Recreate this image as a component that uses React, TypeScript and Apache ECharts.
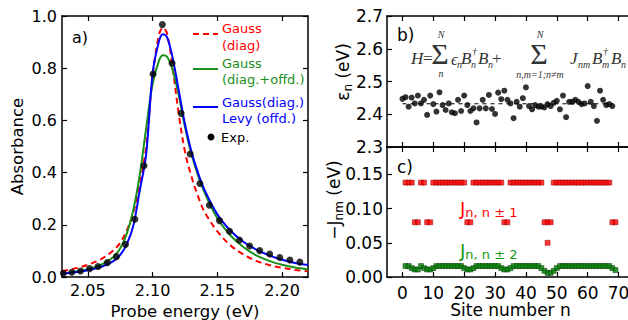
import React, { useEffect, useRef } from "react";
import * as echarts from "echarts";

// ---------- Panel a: absorbance spectra ----------
const curveEnergy = [2.03, 2.04, 2.05, 2.06, 2.07, 2.075, 2.08, 2.085, 2.09, 2.095, 2.1, 2.105, 2.108, 2.111, 2.115, 2.12, 2.125, 2.13, 2.135, 2.14, 2.15, 2.16, 2.17, 2.18, 2.19, 2.2, 2.21, 2.22];
const gaussDiag = [0.022, 0.033, 0.047, 0.068, 0.103, 0.132, 0.178, 0.245, 0.355, 0.5, 0.77, 0.93, 0.955, 0.935, 0.82, 0.63, 0.48, 0.385, 0.31, 0.25, 0.175, 0.122, 0.087, 0.062, 0.046, 0.035, 0.027, 0.022];
const gaussDiagOffd = [0.012, 0.02, 0.03, 0.046, 0.078, 0.11, 0.165, 0.255, 0.39, 0.57, 0.74, 0.83, 0.85, 0.845, 0.8, 0.7, 0.575, 0.47, 0.39, 0.325, 0.225, 0.16, 0.115, 0.083, 0.062, 0.047, 0.036, 0.029];
const gaussLevy = [0.012, 0.018, 0.026, 0.038, 0.062, 0.085, 0.125, 0.195, 0.33, 0.47, 0.78, 0.905, 0.93, 0.92, 0.85, 0.72, 0.585, 0.48, 0.4, 0.335, 0.24, 0.178, 0.135, 0.105, 0.083, 0.066, 0.054, 0.046];
const expEnergy = [2.031, 2.0376, 2.0443, 2.0513, 2.0578, 2.065, 2.072, 2.079, 2.0863, 2.0933, 2.1003, 2.1075, 2.115, 2.122, 2.129, 2.1365, 2.1438, 2.1516, 2.1594, 2.1671, 2.1749, 2.1827, 2.1904, 2.1982, 2.206, 2.2137];
const expAbsorbance = [0.014, 0.018, 0.023, 0.032, 0.04, 0.055, 0.078, 0.125, 0.221, 0.426, 0.778, 0.967, 0.819, 0.627, 0.471, 0.358, 0.275, 0.216, 0.175, 0.142, 0.119, 0.101, 0.088, 0.075, 0.065, 0.057];
const energyTicks = [2.05, 2.1, 2.15, 2.2];

// ---------- Panel b: site energies (sites 0..68) ----------
const siteEnergy = [2.447, 2.452, 2.423, 2.451, 2.433, 2.457, 2.433, 2.444, 2.398, 2.457, 2.431, 2.408, 2.467, 2.428, 2.413, 2.433, 2.406, 2.403, 2.444, 2.41, 2.457, 2.428, 2.41, 2.418, 2.375, 2.418, 2.444, 2.418, 2.459, 2.416, 2.401, 2.466, 2.446, 2.472, 2.444, 2.433, 2.388, 2.438, 2.423, 2.449, 2.482, 2.425, 2.415, 2.428, 2.423, 2.423, 2.421, 2.431, 2.425, 2.435, 2.441, 2.415, 2.457, 2.391, 2.438, 2.438, 2.444, 2.438, 2.431, 2.433, 2.486, 2.438, 2.425, 2.38, 2.472, 2.444, 2.428, 2.431, 2.425];
const meanSiteEnergy = 2.432;
const siteEnergyTicks = [2.3, 2.4, 2.5, 2.6, 2.7];

// ---------- Panel c: couplings (sites 1..69) ----------
const jNearest = [0.138, 0.138, 0.138, 0.08, 0.08, 0.138, 0.138, 0.08, 0.08, 0.138, 0.138, 0.138, 0.138, 0.138, 0.138, 0.138, 0.138, 0.138, 0.138, 0.138, 0.08, 0.08, 0.138, 0.138, 0.138, 0.138, 0.138, 0.138, 0.138, 0.138, 0.138, 0.138, 0.08, 0.08, 0.138, 0.138, 0.138, 0.138, 0.138, 0.138, 0.138, 0.138, 0.138, 0.138, 0.138, 0.08, 0.08, 0.08, 0.138, 0.138, 0.138, 0.138, 0.138, 0.138, 0.138, 0.138, 0.138, 0.138, 0.138, 0.138, 0.138, 0.138, 0.138, 0.138, 0.138, 0.138, 0.138, 0.08, 0.08];
const jNearestExtraSite = [47];
const jNearestExtraValue = [0.05];
const jNextNearest = [0.016, 0.016, 0.013, 0.011, 0.011, 0.016, 0.013, 0.011, 0.011, 0.013, 0.016, 0.016, 0.016, 0.016, 0.016, 0.016, 0.016, 0.016, 0.016, 0.013, 0.011, 0.011, 0.013, 0.016, 0.016, 0.016, 0.016, 0.016, 0.016, 0.016, 0.016, 0.013, 0.011, 0.011, 0.013, 0.016, 0.016, 0.016, 0.016, 0.016, 0.016, 0.016, 0.016, 0.016, 0.013, 0.009, 0.006, 0.006, 0.009, 0.013, 0.016, 0.016, 0.016, 0.016, 0.016, 0.016, 0.016, 0.016, 0.016, 0.016, 0.016, 0.016, 0.016, 0.016, 0.016, 0.016, 0.016, 0.013, 0.01];
const siteTicks = [0, 10, 20, 30, 40, 50, 60, 70];
const couplingTicks = [0, 0.05, 0.1, 0.15];

const FONT = "DejaVu Sans";
const SERIF = "Liberation Serif";
const RED = "#ff0000";
const GREEN = "#1a8f1a";
const BLUE = "#0000ff";

function axis(opts: any) {
  const { gridIndex, position, min, max, ticks, interval, labels, fmt, fontSize, margin, name, nameGap, nameStyle } = opts;
  const a: any = {
    type: "value",
    gridIndex,
    position,
    min,
    max,
    axisLine: { show: true, onZero: false, lineStyle: { color: "#000", width: 1.5 } },
    axisTick: { show: true, inside: true, length: 5, lineStyle: { color: "#000", width: 1.2 } },
    axisLabel: {
      show: !!labels,
      color: "#000",
      fontFamily: FONT,
      fontSize: fontSize || 16,
      margin: margin ?? 6,
      formatter: fmt,
    },
    splitLine: { show: false },
  };
  if (ticks) {
    a.axisTick.customValues = ticks;
    a.axisLabel.customValues = ticks;
  }
  if (interval) a.interval = interval;
  if (name) {
    a.name = name;
    a.nameLocation = "middle";
    a.nameGap = nameGap;
    a.nameTextStyle = { color: "#000", fontFamily: FONT, fontSize: 16.5, ...(nameStyle || {}) };
  }
  return a;
}

function txt(x: number, y: number, text: string, size: number, opts: any = {}) {
  return {
    type: "text",
    x,
    y,
    rotation: opts.rotation || 0,
    silent: true,
    style: {
      text,
      fontSize: size,
      fontFamily: opts.family || FONT,
      fontStyle: opts.italic ? "italic" : "normal",
      fill: opts.color || "#000",
      align: opts.align || "left",
      verticalAlign: "middle",
      rich: opts.rich,
    },
  };
}

function mathT(x: number, y: number, text: string, size: number, italic = true, align = "left") {
  return txt(x, y, text, size, { family: SERIF, italic, align, color: "#333" });
}

export default function App() {
  const ref = useRef<HTMLDivElement>(null);

  useEffect(() => {
    const chart = echarts.init(ref.current!, null, { renderer: "svg" });

    const grids = [
      { left: 62, top: 16, width: 246, height: 261, outerBoundsMode: "none" },
      { left: 387, top: 16, width: 247, height: 131, outerBoundsMode: "none" },
      { left: 387, top: 147, width: 247, height: 130, outerBoundsMode: "none" },
    ];

    const f2 = (v: number) => v.toFixed(2);
    const f1 = (v: number) => v.toFixed(1);

    const xAxes = [
      axis({ gridIndex: 0, position: "bottom", min: 2.03, max: 2.22, ticks: energyTicks, labels: true, fmt: f2, margin: 5, name: "Probe energy (eV)", nameGap: 21 }),
      axis({ gridIndex: 0, position: "top", min: 2.03, max: 2.22, ticks: energyTicks }),
      axis({ gridIndex: 1, position: "bottom", min: -5, max: 75, ticks: siteTicks }),
      axis({ gridIndex: 1, position: "top", min: -5, max: 75, ticks: siteTicks }),
      axis({ gridIndex: 2, position: "bottom", min: -5, max: 75, ticks: siteTicks, labels: true, fmt: (v: number) => String(v), fontSize: 17, margin: 7, name: "Site number n", nameGap: 23, nameStyle: { fontSize: 17 } }),
      axis({ gridIndex: 2, position: "top", min: -5, max: 75, ticks: siteTicks }),
    ];

    const yAxes = [
      axis({ gridIndex: 0, position: "left", min: 0, max: 1, interval: 0.2, labels: true, fmt: f1, margin: 5, name: "Absorbance", nameGap: 36 }),
      axis({ gridIndex: 0, position: "right", min: 0, max: 1, interval: 0.2 }),
      axis({ gridIndex: 1, position: "left", min: 2.3, max: 2.7, ticks: siteEnergyTicks, labels: true, fmt: f1, fontSize: 17, margin: 4 }),
      axis({ gridIndex: 1, position: "right", min: 2.3, max: 2.7, ticks: siteEnergyTicks }),
      axis({ gridIndex: 2, position: "left", min: 0, max: 0.19, ticks: couplingTicks, labels: true, fmt: f2, fontSize: 17, margin: 4 }),
      axis({ gridIndex: 2, position: "right", min: 0, max: 0.19, ticks: couplingTicks }),
    ];

    const pair = (xs: number[], ys: number[]) => xs.map((x, i) => [x, ys[i]]);

    const series: any[] = [
      {
        type: "line", name: "Gauss (diag)", xAxisIndex: 0, yAxisIndex: 0,
        data: pair(curveEnergy, gaussDiag), smooth: 0.35, symbol: "none",
        lineStyle: { color: RED, width: 2, type: [6, 4] },
      },
      {
        type: "line", name: "Gauss (diag.+offd.)", xAxisIndex: 0, yAxisIndex: 0,
        data: pair(curveEnergy, gaussDiagOffd), smooth: 0.35, symbol: "none",
        lineStyle: { color: GREEN, width: 2 },
      },
      {
        type: "line", name: "Gauss(diag.) Levy (offd.)", xAxisIndex: 0, yAxisIndex: 0,
        data: pair(curveEnergy, gaussLevy), smooth: 0.35, symbol: "none",
        lineStyle: { color: BLUE, width: 2 },
      },
      {
        type: "scatter", name: "Exp.", xAxisIndex: 0, yAxisIndex: 0,
        data: pair(expEnergy, expAbsorbance), symbol: "circle", symbolSize: 7,
        itemStyle: { color: "#000" }, z: 5,
      },
      {
        type: "line", name: "mean", xAxisIndex: 2, yAxisIndex: 2,
        data: [[0, meanSiteEnergy], [68, meanSiteEnergy]], symbol: "none",
        lineStyle: { color: "#000", width: 1, type: [4, 4] },
      },
      {
        type: "scatter", name: "site energy", xAxisIndex: 2, yAxisIndex: 2,
        data: siteEnergy.map((v, i) => [i, v]), symbol: "circle", symbolSize: 6,
        itemStyle: { color: "#000" }, z: 5,
      },
      {
        type: "scatter", name: "J nn", xAxisIndex: 4, yAxisIndex: 4,
        data: [...jNearest.map((v, i) => [i + 1, v]), ...pair(jNearestExtraSite, jNearestExtraValue)],
        symbol: "rect", symbolSize: 5,
        itemStyle: { color: RED, borderColor: "#8b0000", borderWidth: 0.6 },
      },
      {
        type: "scatter", name: "J nnn", xAxisIndex: 4, yAxisIndex: 4,
        data: jNextNearest.map((v, i) => [i + 1, v]),
        symbol: "rect", symbolSize: 5,
        itemStyle: { color: "#008000", borderColor: "#003300", borderWidth: 0.6 },
      },
    ];

    const subRich = { s: { fontSize: 12, fontFamily: FONT, fill: "#000", padding: [9, 0, 0, 0] } };

    const graphic: any[] = [
      // panel labels
      txt(72, 37, "a)", 16),
      txt(397, 35, "b)", 17),
      txt(397, 167, "c)", 17),
      // rotated y-axis titles for panels b and c
      txt(343, 72, "ε{s|n} (eV)", 17, { align: "center", rotation: Math.PI / 2, rich: subRich }),
      txt(334, 200, "−J{s|nm} (eV)", 17, { align: "center", rotation: Math.PI / 2, rich: subRich }),
      // legend panel a
      { type: "line", silent: true, shape: { x1: 193, y1: 34, x2: 218, y2: 34 }, style: { stroke: RED, lineWidth: 2, lineDash: [6, 4] } },
      txt(222, 28, "Gauss", 13, { color: RED }),
      txt(222, 45, "(diag)", 13, { color: RED }),
      { type: "line", silent: true, shape: { x1: 193, y1: 69, x2: 218, y2: 69 }, style: { stroke: GREEN, lineWidth: 2 } },
      txt(222, 63, "Gauss", 13, { color: GREEN }),
      txt(222, 79, "(diag.+offd.)", 13, { color: GREEN }),
      { type: "line", silent: true, shape: { x1: 193, y1: 107, x2: 218, y2: 107 }, style: { stroke: BLUE, lineWidth: 2 } },
      txt(222, 102, "Gauss(diag.)", 13, { color: BLUE }),
      txt(222, 118, "Levy (offd.)", 13, { color: BLUE }),
      { type: "circle", silent: true, shape: { cx: 211, cy: 137, r: 3.5 }, style: { fill: "#000" } },
      txt(221, 137, "Exp.", 13),
      // panel c labels
      txt(460, 208, "J{s|n, n ± 1}", 18, { color: RED, rich: { s: { fontSize: 13, fontFamily: FONT, fill: RED, padding: [8, 0, 0, 0] } } }),
      txt(460, 250, "J{s|n, n ± 2}", 18, { color: "#119911", rich: { s: { fontSize: 13, fontFamily: FONT, fill: "#119911", padding: [8, 0, 0, 0] } } }),
      // Hamiltonian formula
      mathT(411, 58, "H", 17),
      mathT(423, 58, "=", 17, false),
      mathT(440, 53, "Σ", 30, false, "center"),
      mathT(441, 34, "N", 10, true, "center"),
      mathT(441, 73, "n", 10, true, "center"),
      mathT(451, 59, "ϵ", 17),
      mathT(457, 64, "n", 10),
      mathT(461, 58, "B", 17),
      mathT(472, 51, "†", 10),
      mathT(471, 64, "n", 10),
      mathT(478, 58, "B", 17),
      mathT(488, 64, "n", 10),
      mathT(492, 58, "+", 17, false),
      mathT(539, 53, "Σ", 30, false, "center"),
      mathT(540, 34, "N", 10, true, "center"),
      mathT(540, 74, "n,m=1;n≠m", 10, true, "center"),
      mathT(570, 58, "J", 17),
      mathT(578, 64, "nm", 10),
      mathT(592, 58, "B", 17),
      mathT(603, 51, "†", 10),
      mathT(602, 64, "m", 10),
      mathT(611, 58, "B", 17),
      mathT(621, 64, "n", 10),
    ];

    chart.setOption({
      animation: false,
      backgroundColor: "#fff",
      grid: grids,
      xAxis: xAxes,
      yAxis: yAxes,
      series,
      graphic,
    });

    return () => chart.dispose();
  }, []);

  return (
    <div
      ref={ref}
      style={{ position: "fixed", left: 0, top: 0, width: 628, height: 320, background: "#fff" }}
    />
  );
}
